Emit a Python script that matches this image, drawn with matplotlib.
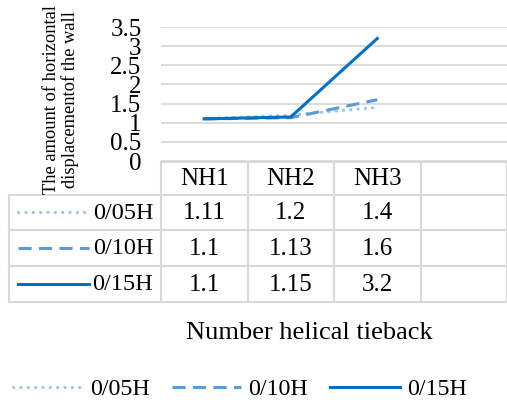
import matplotlib.pyplot as plt

categories = ["NH1", "NH2", "NH3", ""]
series_names = ["0/05H", "0/10H", "0/15H"]
h005 = [1.11, 1.2, 1.4]
h010 = [1.1, 1.13, 1.6]
h015 = [1.1, 1.15, 3.2]
table_text = [["1.11", "1.2", "1.4"], ["1.1", "1.13", "1.6"], ["1.1", "1.15", "3.2"]]
y_ticks = [0, 0.5, 1, 1.5, 2, 2.5, 3, 3.5]

W, H = 507, 403
plt.rcParams["font.family"] = ["Liberation Serif", "DejaVu Serif"]
FS = 18


def px_box(left, top, right, bottom):
    return [left / W, 1 - bottom / H, (right - left) / W, (bottom - top) / H]


fig = plt.figure(figsize=(W / 100, H / 100), dpi=100)

# plot area
ax = fig.add_axes(px_box(161, 27, 507, 161))
styles = [
    dict(color="#9DC3E6", linestyle=(0, (0.1, 2.3)), linewidth=2.2, dash_capstyle="round"),
    dict(color="#5B9BD5", linestyle=(0, (4.3, 2.4)), linewidth=2.2),
    dict(color="#0070C0", linestyle="-", linewidth=2.2),
]
lines = []
for name, vals, st in zip(series_names, [h005, h010, h015], styles):
    (ln,) = ax.plot(range(len(vals)), vals, label=name, clip_on=False, zorder=3, **st)
    lines.append(ln)

ax.set_xlim(-0.5, len(categories) - 0.5)
ax.set_ylim(0, 3.5)
ax.set_yticks(y_ticks)
ax.set_yticklabels([f"{t:g}" for t in y_ticks])
ax.set_xticks([])
ax.tick_params(axis="y", length=0, pad=14, labelsize=FS)
ax.grid(axis="y", color="#D9D9D9", linewidth=1.3)
for s in ax.spines.values():
    s.set_visible(False)

# data table under the plot
tab = fig.add_axes(px_box(9, 162, 507, 302))
ncol = len(categories)
label_w = 152 / 86.5
x_edges = [-0.5 - label_w] + [-0.5 + i for i in range(ncol + 1)]
row_edges = [0, 32.5, 68, 104, 140]
tab.set_xlim(x_edges[0], x_edges[-1])
tab.set_ylim(row_edges[-1], row_edges[0])
tab.axis("off")
grid_kw = dict(color="#D9D9D9", linewidth=1.5, clip_on=False)

# header row (no cell above row labels)
tab.plot([x_edges[1], x_edges[-1]], [row_edges[0]] * 2, **grid_kw)
for r in range(1, len(row_edges)):
    tab.plot([x_edges[0], x_edges[-1]], [row_edges[r]] * 2, **grid_kw)
tab.plot([x_edges[0]] * 2, [row_edges[1], row_edges[-1]], **grid_kw)
for x in x_edges[1:]:
    tab.plot([x, x], [row_edges[0], row_edges[-1]], **grid_kw)

for i, cat in enumerate(categories):
    tab.text(i, (row_edges[0] + row_edges[1]) / 2 + 1, cat, ha="center", va="center", fontsize=FS)

for r, (name, st, row) in enumerate(zip(series_names, styles, table_text)):
    yc = (row_edges[r + 1] + row_edges[r + 2]) / 2
    tab.plot([x_edges[0] + 0.1, x_edges[0] + 0.92], [yc, yc], clip_on=False, **st)
    tab.text(x_edges[1] - 0.09, yc + 1, name, ha="right", va="center", fontsize=17.5)
    for c, v in enumerate(row):
        tab.text(c, yc + 1, v, ha="center", va="center", fontsize=FS)

# axis titles
fig.text(309 / W, 1 - 333 / H, "Number helical tieback", ha="center", va="center", fontsize=19)
fig.text(61 / W, 1 - 100 / H, "The amount of horizontal\ndisplacementof the wall",
         rotation=90, ha="center", va="center", fontsize=13.3, linespacing=1.1)

fig.legend(handles=lines, loc="center", bbox_to_anchor=(240 / W, 1 - 389 / H), ncol=3,
           frameon=False, fontsize=17.3, handlelength=2.9, handletextpad=0.3,
           columnspacing=0.9)

fig.savefig("out.png", dpi=100)
